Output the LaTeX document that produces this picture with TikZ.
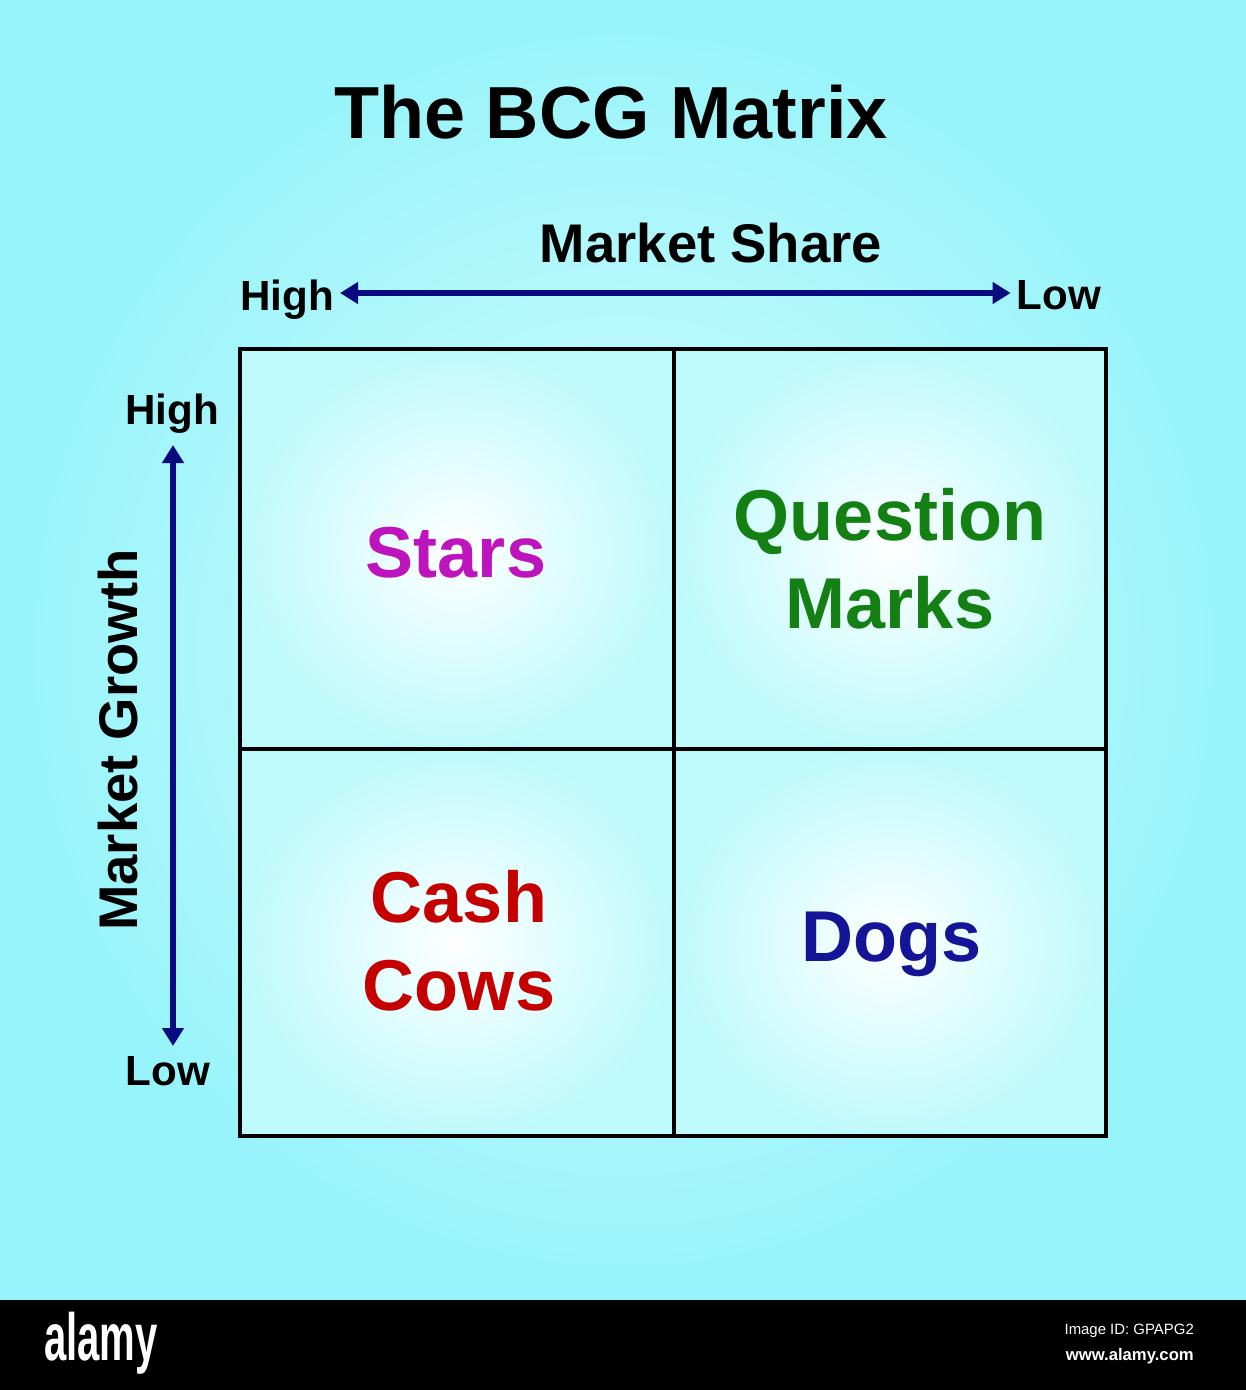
\documentclass[tikz,border=0pt]{standalone}
\usepackage{fontspec}
\setmainfont{Liberation Sans}
\usetikzlibrary{arrows.meta}
\definecolor{bgcyan}{RGB}{150,244,250}
\definecolor{bglight}{RGB}{215,252,253}
\definecolor{cellcyan}{RGB}{190,250,252}
\definecolor{axisblue}{RGB}{10,10,128}
\definecolor{starcol}{RGB}{190,20,190}
\definecolor{questcol}{RGB}{20,128,20}
\definecolor{cashcol}{RGB}{196,0,0}
\definecolor{dogcol}{RGB}{20,20,150}
\begin{document}
\begin{tikzpicture}[x=0.02cm, y=-0.02cm,
	lbl/.style={font=\bfseries\fontsize{24}{28}\selectfont, anchor=base},
	axislbl/.style={font=\bfseries\fontsize{31}{36}\selectfont},
	quad/.style={font=\bfseries\fontsize{41}{50}\selectfont, align=center, anchor=base},
	axis/.style={draw=axisblue, line width=0.12cm,
		{Triangle[length=0.36cm,width=0.42cm]}-{Triangle[length=0.36cm,width=0.42cm]}},
	cell/.style={inner color=white, outer color=cellcyan}]
	\useasboundingbox (0, 0) rectangle (1246, 1390);
	\shade[inner color=bglight, outer color=bgcyan] (0, 0) rectangle (1246, 1300);

	\node (Title) [font=\bfseries\fontsize{42}{50}\selectfont, anchor=base] at (611, 138) {The BCG Matrix};

	% market share axis
	\node (ShareLbl) [axislbl, anchor=base] at (711, 262) {Market Share};
	\node (ShareHigh) [lbl] at (287, 310) {High};
	\node (ShareLow) [lbl] at (1059, 309) {Low};
	\draw[axis] (ShareHigh.east |- 0, 293) -- (ShareLow.west |- 0, 293);

	% market growth axis
	\node (GrowthHigh) [lbl] at (172, 424) {High};
	\node (GrowthLow) [lbl] at (168, 1085) {Low};
	\coordinate (GrowthTop) at (173, 445);
	\coordinate (GrowthBot) at (173, 1046);
	\draw[axis] (GrowthTop) -- (GrowthBot);
	\node (GrowthLbl) [axislbl, rotate=90] at (118, 740) {Market Growth};

	% the four cells
	\shade[cell] (240, 349) rectangle (674, 749);
	\shade[cell] (674, 349) rectangle (1106, 749);
	\shade[cell] (240, 749) rectangle (674, 1136);
	\shade[cell] (674, 749) rectangle (1106, 1136);
	\draw[line width=0.08cm] (240, 349) rectangle (1106, 1136);
	\draw[line width=0.08cm] (674, 349) -- (674, 1136);
	\draw[line width=0.08cm] (240, 749) -- (1106, 749);

	\node (Stars) [quad, text=starcol] at (456, 577) {Stars};
	\node (Question) [quad, text=questcol] at (890, 628) {Question\\Marks};
	\node (Cash) [quad, text=cashcol] at (459, 1010) {Cash\\Cows};
	\node (Dogs) [quad, text=dogcol] at (892, 961) {Dogs};

	% footer
	\fill[black] (0, 1300) rectangle (1246, 1390);
	\node (Brand) [text=white, font=\bfseries\fontsize{38}{40}\selectfont, xscale=0.6] at (101, 1343) {alamy};
	\node (ImgId) [text=white, font=\fontsize{8.5}{10}\selectfont, anchor=east] at (1200, 1331) {Image ID: GPAPG2};
	\node (Site) [text=white, font=\bfseries\fontsize{9.5}{11}\selectfont, anchor=east] at (1200, 1356) {www.alamy.com};
\end{tikzpicture}
\end{document}
